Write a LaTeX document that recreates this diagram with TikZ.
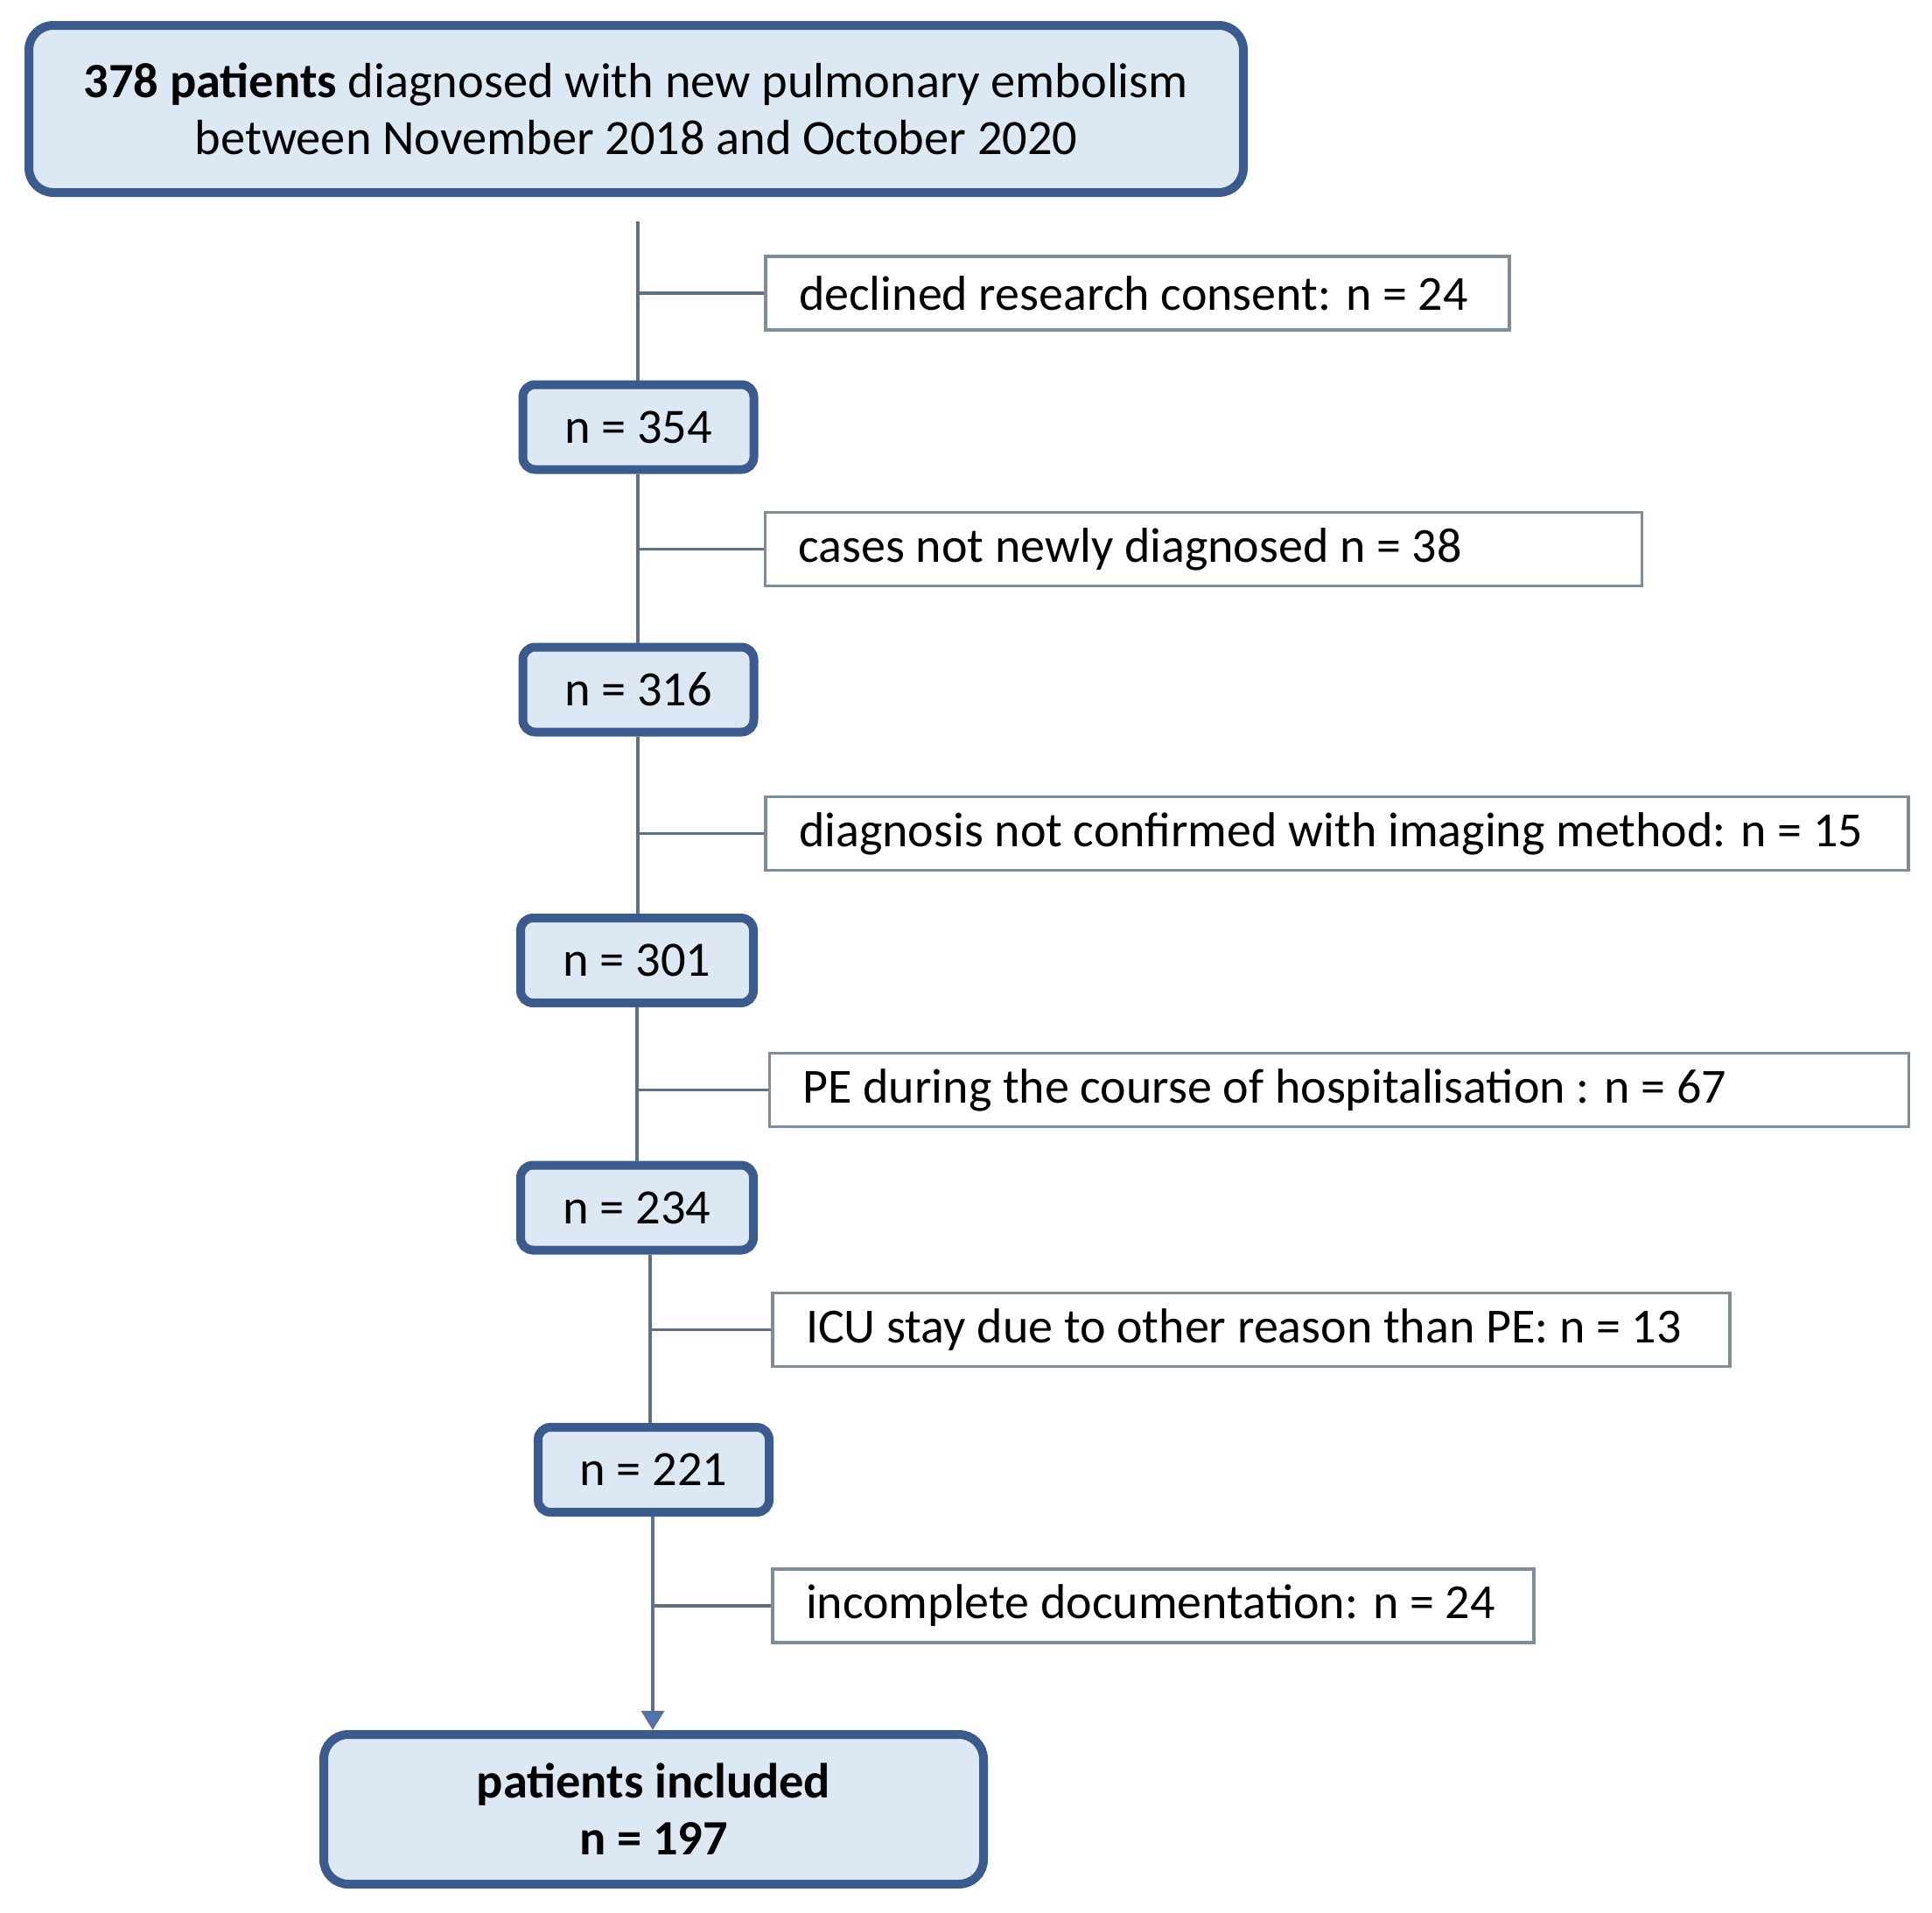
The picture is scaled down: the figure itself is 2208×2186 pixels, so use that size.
\documentclass[tikz,border=0pt]{standalone}
\usepackage{fontspec}
\setmainfont{Carlito}
\usetikzlibrary{arrows.meta}
\definecolor{bdark}{HTML}{3B5A8E}
\definecolor{bfill}{HTML}{DDE8F5}
\definecolor{thinb}{HTML}{7E8D9C}
\definecolor{connc}{HTML}{5E7089}
\definecolor{arrc}{HTML}{4A78BE}
\newcommand{\exline}[2]{\makebox[#1][l]{#2}}
\tikzset{
  mainbox/.style={draw=bdark, line width=5pt, fill=bfill, rounded corners=7pt, inner sep=0pt, align=center, font=\fontsize{28.2}{32.5}\selectfont},
  nbox/.style={mainbox, minimum width=132pt, minimum height=48.5pt},
  exbox/.style={draw=thinb, line width=1.6pt, fill=white, inner xsep=19pt, inner ysep=0pt, minimum height=42pt, font=\fontsize{28}{32.5}\selectfont},
  conn/.style={draw=connc, line width=1.8pt},
}
\begin{document}
\begin{tikzpicture}[x=0.5pt,y=-0.5pt]
\useasboundingbox (0,0) rectangle (2208,2186);
% main boxes
\node[mainbox, rounded corners=14pt, minimum width=694pt, minimum height=95.5pt] (top) at (727,124.5)
  {\textbf{378 patients} diagnosed with new pulmonary embolism\\between November 2018 and October 2020};
\node[nbox] (n354) at (729.5,488) {n = 354};
\node[nbox] (n316) at (729.5,788) {n = 316};
\node[nbox, minimum width=133pt] (n301) at (728,1097.5) {n = 301};
\node[nbox, minimum width=133pt] (n234) at (728,1380) {n = 234};
\node[nbox] (n221) at (747,1679.5) {n = 221};
\node[mainbox, rounded corners=14pt, minimum width=377pt, minimum height=85.5pt] (final) at (747,2067.5)
  {\textbf{patients included}\\\textbf{n = 197}};
% exclusion boxes
\node[exbox] (e1) at (1300,335) {\exline{387pt}{declined research consent: n = 24}};
\node[exbox] (e2) at (1375.5,627.5) {\exline{463pt}{cases not newly diagnosed n = 38}};
\node[exbox] (e3) at (1528,952.5) {\exline{615pt}{diagnosis not confirmed with imaging method: n = 15}};
\node[exbox] (e4) at (1530.5,1245.5) {\exline{613pt}{PE during the course of hospitalisation : n = 67}};
\node[exbox] (e5) at (1430,1519.5) {\exline{509pt}{ICU stay due to other reason than PE: n = 13}};
\node[exbox] (e6) at (1318,1835) {\exline{397pt}{incomplete documentation: n = 24}};
% connector coordinates
\coordinate (s0) at (729,253);
\coordinate (b1) at (729,345);
\coordinate (b2) at (729,643);
\coordinate (b3) at (729,964);
\coordinate (b4) at (728,1245);
\coordinate (c5) at (743,1380);
\coordinate (c6) at (746,1680);
% vertical connectors
\draw[conn] (s0) -- (s0 |- n354.north);
\draw[conn] (b1 |- n354.south) -- (b1 |- n316.north);
\draw[conn] (b3 |- n316.south) -- (b3 |- n301.north);
\draw[conn] (b4 |- n301.south) -- (b4 |- n234.north);
\draw[conn] (c5 |- n234.south) -- (c5 |- n221.north);
\draw[conn, draw=connc!70!arrc, -{Triangle[length=11pt,width=13pt,fill=arrc]}] (c6 |- n221.south) -- (c6 |- final.north);
% branches
\draw[conn] (b1 |- e1.west) -- (e1.west);
\draw[conn] (b2 |- e2.west) -- (e2.west);
\draw[conn] (b3 |- e3.west) -- (e3.west);
\draw[conn] (b4 |- e4.west) -- (e4.west);
\draw[conn] (c5 |- e5.west) -- (e5.west);
\draw[conn] (c6 |- e6.west) -- (e6.west);
\end{tikzpicture}
\end{document}
